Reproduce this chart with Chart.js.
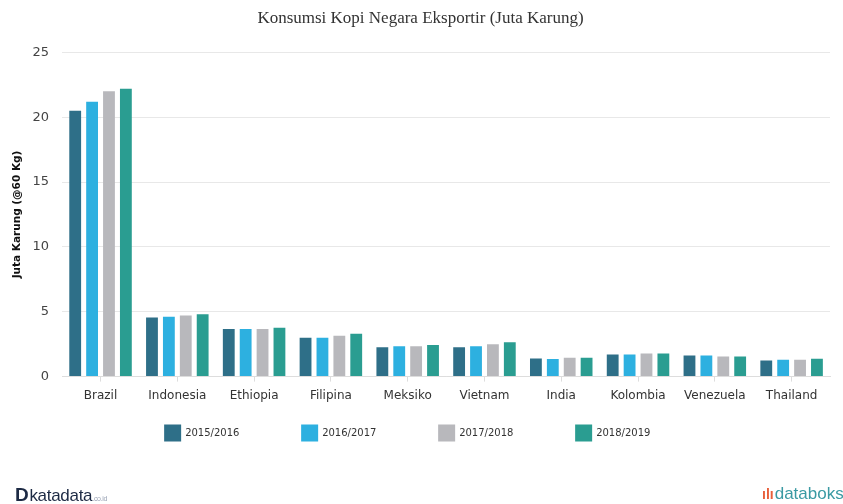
<!DOCTYPE html>
<html>
<head>
<meta charset="utf-8">
<script src="https://cdn.jsdelivr.net/npm/chart.js@4/dist/chart.umd.min.js"></script>
<style>
  html, body { margin: 0; padding: 0; background: #ffffff; }
  #wrap { position: relative; width: 843px; height: 504px; }
  #c { position: absolute; left: 0; top: 0; }
  #kd { position: absolute; left: 15px; top: 484px; font-family: "Liberation Sans", Arial, sans-serif; font-size: 17px; color: #1d2a44; letter-spacing: -0.3px; }
  #kd b { font-size: 19px; font-weight: 900; margin-right: 1px; }
  #kd small { font-size: 7px; color: #9aa3b5; }
  #db { position: absolute; left: 762px; top: 484px; font-family: "Liberation Sans", Arial, sans-serif; font-size: 17px; color: #3a9aa3; }
  #db span { color: #e8603c; font-weight: bold; font-size: 14px; margin-right: 1px; }
</style>
</head>
<body>
<div id="wrap">
  <canvas id="c" width="843" height="504"></canvas>
  <div id="kd"><b>D</b>katadata<small>.co.id</small></div>
  <div id="db"><span>ılı</span>databoks</div>
</div>
<script>
const categories = ["Brazil", "Indonesia", "Ethiopia", "Filipina", "Meksiko", "Vietnam", "India", "Kolombia", "Venezuela", "Thailand"];
const seriesNames = ["2015/2016", "2016/2017", "2017/2018", "2018/2019"];
const s2015 = [20.5, 4.55, 3.68, 3.0, 2.27, 2.27, 1.39, 1.7, 1.63, 1.24];
const s2016 = [21.2, 4.62, 3.68, 3.0, 2.35, 2.35, 1.35, 1.7, 1.63, 1.29];
const s2017 = [22.0, 4.72, 3.68, 3.15, 2.35, 2.5, 1.45, 1.78, 1.55, 1.29];
const s2018 = [22.2, 4.8, 3.77, 3.3, 2.43, 2.65, 1.45, 1.78, 1.55, 1.37];
const yTicks = [0, 5, 10, 15, 20, 25];
const colors = ["#2e6f88", "#2db0e0", "#b8b8bc", "#2a9d91"];
const values = [s2015, s2016, s2017, s2018];

// Legend drawn from the chart's datasets, spaced like the original
const bottomLegend = {
  id: "bottomLegend",
  afterDraw(chart) {
    const ctx = chart.ctx;
    const box = 17, gapText = 4, stride = 137;
    ctx.save();
    ctx.font = "10px 'DejaVu Sans'";
    let x = chart.chartArea.left + 102;
    const yc = 433;
    chart.data.datasets.forEach((ds) => {
      ctx.fillStyle = ds.backgroundColor;
      ctx.fillRect(x, yc - box / 2, box, box);
      ctx.fillStyle = "#333333";
      ctx.textBaseline = "middle";
      ctx.textAlign = "left";
      ctx.fillText(ds.label, x + box + gapText, yc);
      x += stride;
    });
    ctx.restore();
  }
};

new Chart(document.getElementById("c"), {
  type: "bar",
  data: {
    labels: categories,
    datasets: seriesNames.map((n, i) => ({
      label: n,
      data: values[i],
      backgroundColor: colors[i],
      borderWidth: 0,
      barPercentage: 0.7,
      categoryPercentage: 0.88
    }))
  },
  plugins: [bottomLegend],
  options: {
    responsive: false,
    animation: false,
    layout: { padding: { left: 11, right: 13, top: 4, bottom: 94 } },
    plugins: {
      title: {
        display: true,
        text: "Konsumsi Kopi Negara Eksportir (Juta Karung)",
        font: { family: "Liberation Serif", size: 17, weight: "normal" },
        color: "#333333",
        padding: { top: 4, bottom: 24 }
      },
      legend: { display: false },
      tooltip: { enabled: false }
    },
    scales: {
      x: {
        grid: { display: true, drawOnChartArea: false, offset: false, tickLength: 5, color: "#dddddd" },
        border: { color: "#dddddd" },
        ticks: { font: { family: "DejaVu Sans", size: 12 }, color: "#333333", padding: 7 }
      },
      y: {
        min: 0, max: 25,
        afterBuildTicks: (axis) => { axis.ticks = yTicks.map(v => ({ value: v })); },
        grid: { color: "#e8e8e8", drawTicks: false },
        border: { display: false },
        title: {
          display: true,
          text: "Juta Karung (@60 Kg)",
          font: { family: "DejaVu Sans", size: 10.5, weight: "bold" },
          color: "#111111",
          padding: { top: 0, bottom: -4 }
        },
        ticks: { font: { family: "DejaVu Sans", size: 13 }, color: "#444444", padding: 13 }
      }
    }
  }
});
</script>
</body>
</html>
